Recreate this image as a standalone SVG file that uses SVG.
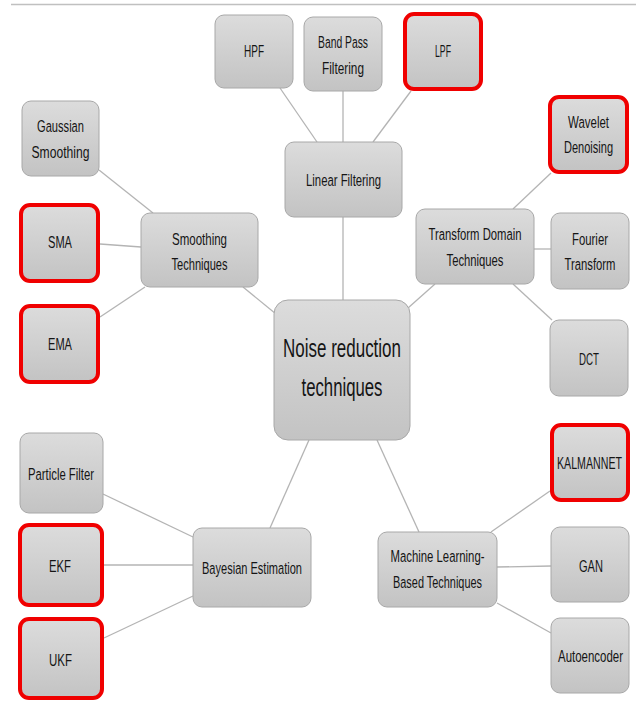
<svg xmlns="http://www.w3.org/2000/svg" width="636" height="702" viewBox="0 0 636 702">
<defs>
<linearGradient id="g" x1="0" y1="0" x2="0" y2="1">
<stop offset="0" stop-color="#dcdcdc"/>
<stop offset="1" stop-color="#c3c3c3"/>
</linearGradient>
</defs>
<style>
.n{fill:url(#g);stroke:#a8a8a8;stroke-width:1}
.r{fill:url(#g);stroke:#f00000;stroke-width:4}
.t{font-family:"Liberation Sans",Arial,sans-serif;font-size:11.2px;fill:#151515;text-anchor:middle}
.c{font-size:16.8px}
.l{stroke:#b4b4b4;stroke-width:1.3;fill:none}
</style>
<rect width="636" height="702" fill="#fff"/>
<line x1="11" y1="4.5" x2="636" y2="4.5" stroke="#c0c0c0" stroke-width="1.5"/>
<g id="connectors" class="l">
<line x1="280" y1="88" x2="317" y2="142"/>
<line x1="343" y1="91" x2="343" y2="142"/>
<line x1="411" y1="91" x2="373" y2="142"/>
<line x1="343" y1="217" x2="343" y2="300"/>
<line x1="99" y1="170" x2="153" y2="213"/>
<line x1="100" y1="244" x2="141" y2="247"/>
<line x1="100" y1="317" x2="145" y2="287"/>
<line x1="243" y1="287" x2="276" y2="314"/>
<line x1="551" y1="173" x2="513" y2="209"/>
<line x1="534" y1="249" x2="551" y2="249"/>
<line x1="513" y1="284" x2="552" y2="320"/>
<line x1="435" y1="284" x2="408" y2="308"/>
<line x1="103" y1="494" x2="193" y2="537"/>
<line x1="104" y1="565" x2="193" y2="565"/>
<line x1="104" y1="638" x2="193" y2="596"/>
<line x1="270" y1="528" x2="309" y2="440"/>
<line x1="550" y1="491" x2="491" y2="532"/>
<line x1="497" y1="567" x2="551" y2="566"/>
<line x1="497" y1="603" x2="551" y2="633"/>
<line x1="419" y1="532" x2="377" y2="440"/>
</g>
<g id="hpf"><rect class="n" x="215" y="15" width="78" height="73" rx="9"/><text class="t" transform="translate(254 57) scale(1 1.5)" textLength="20" lengthAdjust="spacingAndGlyphs">HPF</text></g>
<g id="bandpass"><rect class="n" x="304" y="17" width="78" height="74" rx="9"/><text class="t" transform="translate(343 48) scale(1 1.5)" textLength="50" lengthAdjust="spacingAndGlyphs">Band Pass</text><text class="t" transform="translate(343 74) scale(1 1.5)" textLength="42" lengthAdjust="spacingAndGlyphs">Filtering</text></g>
<g id="lpf"><rect class="r" x="405" y="14" width="76" height="75" rx="9"/><text class="t" transform="translate(443 57) scale(1 1.5)" textLength="16" lengthAdjust="spacingAndGlyphs">LPF</text></g>
<g id="linear"><rect class="n" x="285" y="142" width="117" height="75" rx="9"/><text class="t" transform="translate(343.5 186) scale(1 1.5)" textLength="75" lengthAdjust="spacingAndGlyphs">Linear Filtering</text></g>
<g id="gaussian"><rect class="n" x="22" y="101" width="77" height="75" rx="9"/><text class="t" transform="translate(60.5 132) scale(1 1.5)" textLength="47" lengthAdjust="spacingAndGlyphs">Gaussian</text><text class="t" transform="translate(60.5 158) scale(1 1.5)" textLength="58" lengthAdjust="spacingAndGlyphs">Smoothing</text></g>
<g id="sma"><rect class="r" x="21" y="205" width="77" height="76" rx="9"/><text class="t" transform="translate(60 248) scale(1 1.5)" textLength="24" lengthAdjust="spacingAndGlyphs">SMA</text></g>
<g id="ema"><rect class="r" x="21" y="306" width="77" height="76" rx="9"/><text class="t" transform="translate(60 350) scale(1 1.5)" textLength="24" lengthAdjust="spacingAndGlyphs">EMA</text></g>
<g id="smoothing"><rect class="n" x="141" y="213" width="117" height="74" rx="9"/><text class="t" transform="translate(199.5 245) scale(1 1.5)" textLength="55" lengthAdjust="spacingAndGlyphs">Smoothing</text><text class="t" transform="translate(199.5 270) scale(1 1.5)" textLength="56" lengthAdjust="spacingAndGlyphs">Techniques</text></g>
<g id="wavelet"><rect class="r" x="550" y="97" width="77" height="75" rx="9"/><text class="t" transform="translate(588.5 128) scale(1 1.5)" textLength="41" lengthAdjust="spacingAndGlyphs">Wavelet</text><text class="t" transform="translate(588.5 153) scale(1 1.5)" textLength="49" lengthAdjust="spacingAndGlyphs">Denoising</text></g>
<g id="transform"><rect class="n" x="416" y="209" width="118" height="75" rx="9"/><text class="t" transform="translate(475 240) scale(1 1.5)" textLength="93" lengthAdjust="spacingAndGlyphs">Transform Domain</text><text class="t" transform="translate(475 266) scale(1 1.5)" textLength="57" lengthAdjust="spacingAndGlyphs">Techniques</text></g>
<g id="fourier"><rect class="n" x="551" y="213" width="78" height="76" rx="9"/><text class="t" transform="translate(590 245) scale(1 1.5)" textLength="36" lengthAdjust="spacingAndGlyphs">Fourier</text><text class="t" transform="translate(590 270) scale(1 1.5)" textLength="51" lengthAdjust="spacingAndGlyphs">Transform</text></g>
<g id="dct"><rect class="n" x="550" y="320" width="78" height="76" rx="9"/><text class="t" transform="translate(589 365) scale(1 1.5)" textLength="20" lengthAdjust="spacingAndGlyphs">DCT</text></g>
<g id="center"><rect class="n" x="274" y="300" width="136" height="140" rx="14"/><text class="t c" transform="translate(342 357) scale(1 1.5)" textLength="118" lengthAdjust="spacingAndGlyphs">Noise reduction</text><text class="t c" transform="translate(342 396) scale(1 1.5)" textLength="81" lengthAdjust="spacingAndGlyphs">techniques</text></g>
<g id="particle"><rect class="n" x="20" y="433" width="83" height="80" rx="9"/><text class="t" transform="translate(61 480) scale(1 1.5)" textLength="66" lengthAdjust="spacingAndGlyphs">Particle Filter</text></g>
<g id="ekf"><rect class="r" x="20" y="525" width="82" height="80" rx="9"/><text class="t" transform="translate(60 572) scale(1 1.5)" textLength="22" lengthAdjust="spacingAndGlyphs">EKF</text></g>
<g id="ukf"><rect class="r" x="20" y="619" width="82" height="79" rx="9"/><text class="t" transform="translate(60.5 666) scale(1 1.5)" textLength="23" lengthAdjust="spacingAndGlyphs">UKF</text></g>
<g id="bayesian"><rect class="n" x="193" y="528" width="118" height="79" rx="9"/><text class="t" transform="translate(252 574) scale(1 1.5)" textLength="100" lengthAdjust="spacingAndGlyphs">Bayesian Estimation</text></g>
<g id="kalmannet"><rect class="r" x="552" y="425" width="76" height="75" rx="9"/><text class="t" transform="translate(589.5 469) scale(1 1.5)" textLength="65" lengthAdjust="spacingAndGlyphs">KALMANNET</text></g>
<g id="ml"><rect class="n" x="378" y="532" width="119" height="75" rx="9"/><text class="t" transform="translate(437.5 562) scale(1 1.5)" textLength="94" lengthAdjust="spacingAndGlyphs">Machine Learning-</text><text class="t" transform="translate(437.5 588) scale(1 1.5)" textLength="89" lengthAdjust="spacingAndGlyphs">Based Techniques</text></g>
<g id="gan"><rect class="n" x="551" y="527" width="78" height="75" rx="9"/><text class="t" transform="translate(591 572) scale(1 1.5)" textLength="24" lengthAdjust="spacingAndGlyphs">GAN</text></g>
<g id="autoencoder"><rect class="n" x="551" y="618" width="78" height="75" rx="9"/><text class="t" transform="translate(590.5 662) scale(1 1.5)" textLength="65" lengthAdjust="spacingAndGlyphs">Autoencoder</text></g>
</svg>
